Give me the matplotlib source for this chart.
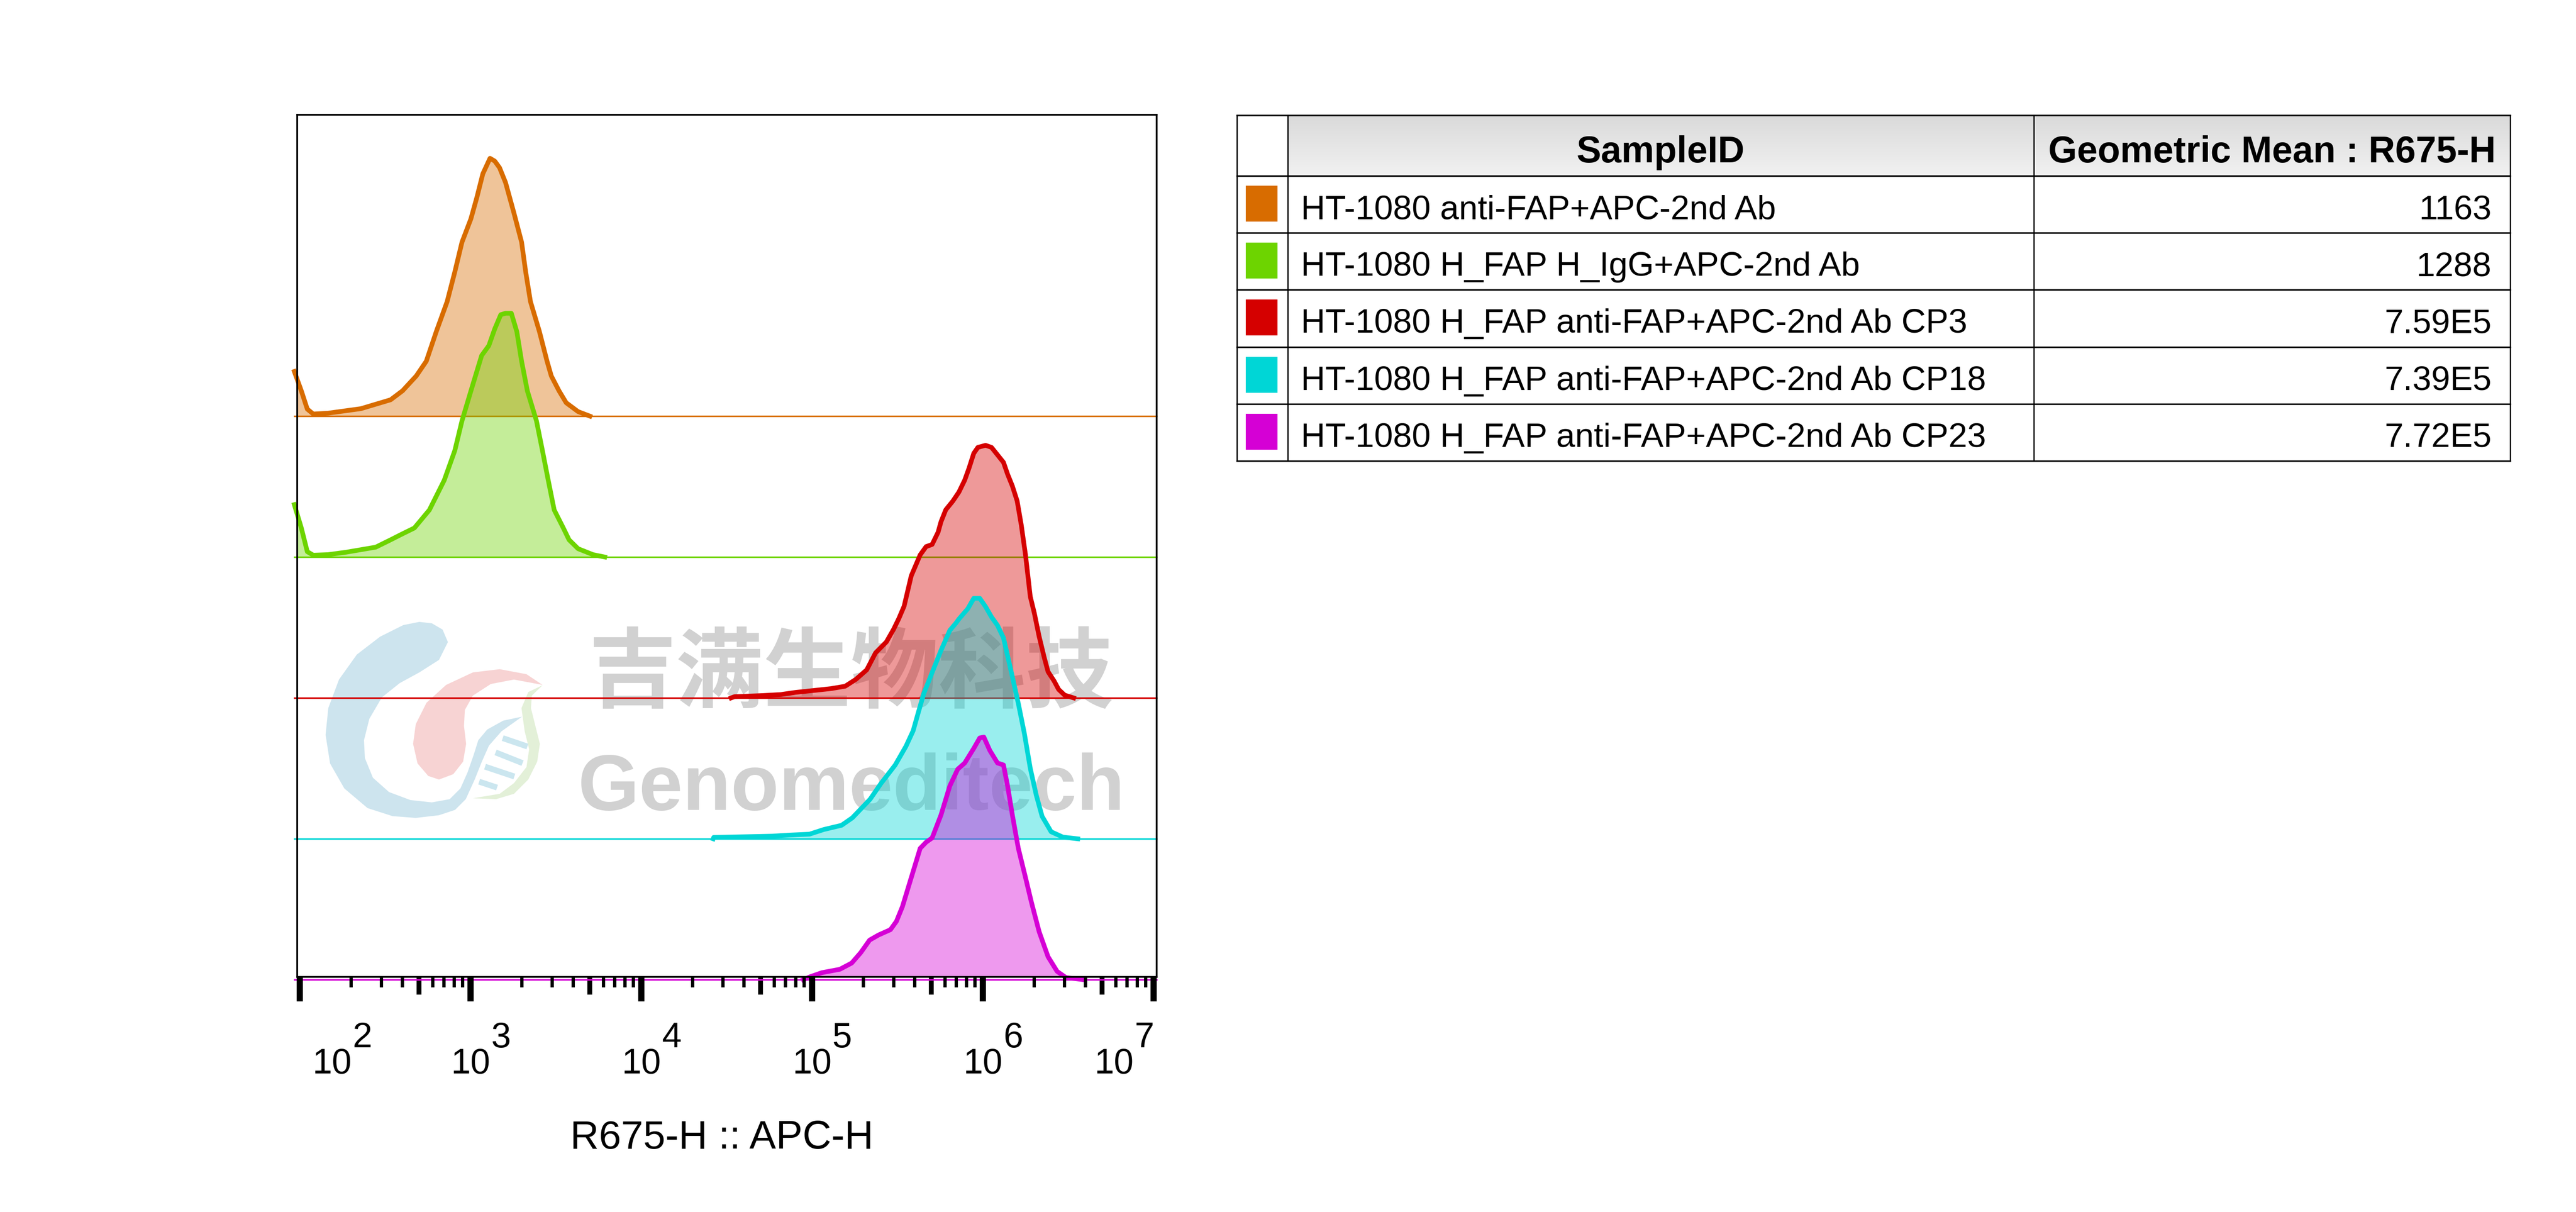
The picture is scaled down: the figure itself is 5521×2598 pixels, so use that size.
import numpy as np
import matplotlib
matplotlib.use('Agg')
import matplotlib.pyplot as plt
from matplotlib.patches import Polygon, Rectangle
from matplotlib.ticker import FixedLocator, NullLocator, NullFormatter

plt.rcParams['font.family'] = ['Liberation Sans', 'Noto Sans CJK SC', 'DejaVu Sans']

W, H, DPI = 5521, 2598, 300

# ---- data -------------------------------------------------------------
sample_ids = ['HT-1080 anti-FAP+APC-2nd Ab',
              'HT-1080 H_FAP H_IgG+APC-2nd Ab',
              'HT-1080 H_FAP anti-FAP+APC-2nd Ab CP3',
              'HT-1080 H_FAP anti-FAP+APC-2nd Ab CP18',
              'HT-1080 H_FAP anti-FAP+APC-2nd Ab CP23']
geo_means = ['1163', '1288', '7.59E5', '7.39E5', '7.72E5']
colors = ['#d86c00', '#6dd400', '#d50000', '#00d6d6', '#d500d5']

# log10(R675-H) and mode-normalised height
orange_log = [1.969, 2.010, 2.045, 2.080, 2.167, 2.359, 2.533, 2.603, 2.683, 2.742,
              2.801, 2.864, 2.909, 2.951, 3.003, 3.038, 3.073, 3.115, 3.143, 3.171,
              3.206, 3.254, 3.300, 3.324, 3.352, 3.404, 3.449, 3.474, 3.519, 3.561,
              3.631, 3.700]
orange_h = [0.317, 0.18, 0.05, 0.015, 0.021, 0.053, 0.116, 0.18, 0.285, 0.39,
            0.602, 0.813, 1.024, 1.235, 1.40, 1.552, 1.72, 1.83, 1.81, 1.763,
            1.658, 1.447, 1.235, 1.024, 0.813, 0.602, 0.39, 0.285, 0.18, 0.095,
            0.032, 0.0]

green_log = [1.969, 2.010, 2.045, 2.080, 2.167, 2.272, 2.446, 2.533, 2.603, 2.672,
             2.760, 2.847, 2.909, 2.951, 3.003, 3.066, 3.108, 3.143, 3.178, 3.206,
             3.240, 3.272, 3.300, 3.334, 3.387, 3.422, 3.456, 3.491, 3.544, 3.578,
             3.631, 3.718, 3.787]
green_h = [0.372, 0.207, 0.038, 0.013, 0.017, 0.034, 0.07, 0.122, 0.165, 0.206,
           0.334, 0.545, 0.756, 0.967, 1.178, 1.43, 1.50, 1.62, 1.72, 1.73,
           1.73, 1.60, 1.39, 1.178, 0.967, 0.756, 0.545, 0.334, 0.207, 0.122,
           0.059, 0.017, 0.0]

red_log = [4.527, 4.547, 4.715, 4.818, 4.903, 5.028, 5.112, 5.195, 5.258, 5.321,
           5.373, 5.436, 5.478, 5.509, 5.540, 5.582, 5.634, 5.669, 5.704, 5.739,
           5.756, 5.784, 5.826, 5.861, 5.895, 5.920, 5.948, 5.972, 6.017, 6.052,
           6.087, 6.122, 6.146, 6.174, 6.202, 6.226, 6.251, 6.279, 6.303, 6.330,
           6.360, 6.383, 6.418, 6.445, 6.480, 6.533]
red_h = [0.0, 0.009, 0.017, 0.024, 0.039, 0.055, 0.066, 0.083, 0.132, 0.199,
         0.32, 0.397, 0.486, 0.563, 0.651, 0.867, 1.015, 1.074, 1.089, 1.176,
         1.25, 1.335, 1.398, 1.461, 1.546, 1.630, 1.736, 1.778, 1.793, 1.778,
         1.725, 1.672, 1.588, 1.504, 1.398, 1.229, 1.015, 0.719, 0.60, 0.44,
         0.29, 0.186, 0.121, 0.06, 0.02, 0.0]

cyan_log = [4.422, 4.425, 4.767, 4.861, 4.986, 5.070, 5.174, 5.237, 5.341, 5.404,
            5.488, 5.551, 5.593, 5.624, 5.655, 5.704, 5.756, 5.808, 5.843, 5.861,
            5.913, 5.948, 5.983, 6.017, 6.052, 6.087, 6.122, 6.146, 6.174, 6.209,
            6.244, 6.279, 6.314, 6.348, 6.401, 6.470, 6.557]
cyan_h = [0.0, 0.010, 0.019, 0.026, 0.033, 0.066, 0.096, 0.149, 0.281, 0.392,
          0.524, 0.657, 0.767, 0.90, 1.03, 1.18, 1.337, 1.48, 1.53, 1.56,
          1.633, 1.707, 1.707, 1.648, 1.574, 1.515, 1.426, 1.30, 1.15, 0.96,
          0.75, 0.50, 0.31, 0.16, 0.05, 0.012, 0.0]

magenta_log = [4.950, 4.990, 5.059, 5.164, 5.233, 5.286, 5.338, 5.390, 5.460, 5.495,
               5.530, 5.582, 5.634, 5.669, 5.704, 5.756, 5.808, 5.854, 5.895, 5.948,
               5.983, 6.007, 6.042, 6.087, 6.122, 6.146, 6.174, 6.209, 6.251, 6.286,
               6.331, 6.383, 6.436, 6.488, 6.592]
magenta_h = [0.0, 0.021, 0.05, 0.074, 0.118, 0.192, 0.281, 0.317, 0.355, 0.414,
             0.518, 0.725, 0.932, 0.976, 1.006, 1.169, 1.376, 1.494, 1.538, 1.642,
             1.716, 1.722, 1.627, 1.538, 1.524, 1.376, 1.169, 0.932, 0.725, 0.548,
             0.34, 0.163, 0.059, 0.015, 0.0]

curves = [(orange_log, orange_h), (green_log, green_h), (red_log, red_h),
          (cyan_log, cyan_h), (magenta_log, magenta_h)]
decades = [2, 3, 4, 5, 6, 7]

# ---- figure -----------------------------------------------------------
fig = plt.figure(figsize=(W / DPI, H / DPI), dpi=DPI)
fig.patch.set_facecolor('white')

# background layer in pixel coordinates: watermark + table
bg = fig.add_axes([0, 0, 1, 1], zorder=0)
bg.set_xlim(0, W)
bg.set_ylim(H, 0)
bg.axis('off')

def logo_poly(pts, color):
    xy = [(650 + x / 2.613, 1250 + y / 2.613) for x, y in pts]
    bg.add_patch(Polygon(xy, closed=True, facecolor=color, edgecolor='none'))

blue_pts = [(650, 217), (560, 235), (430, 300), (300, 400), (200, 540), (140, 700),
            (125, 850), (150, 1010), (230, 1150), (360, 1260), (500, 1305), (630, 1315),
            (760, 1300), (850, 1270), (910, 1210), (960, 1100), (1000, 1000), (1040, 910),
            (1110, 830), (1225, 748), (1120, 770), (1030, 820), (980, 880), (955, 960),
            (920, 1060), (880, 1150), (820, 1210), (720, 1228), (600, 1215), (480, 1170),
            (390, 1090), (345, 980), (340, 880), (370, 760), (440, 640), (540, 560),
            (650, 500), (760, 430), (810, 330), (780, 260), (720, 225)]
pink_pts = [(1340, 570), (1250, 510), (1100, 482), (950, 500), (800, 570), (690, 670),
            (630, 790), (615, 900), (640, 1010), (700, 1080), (760, 1100), (840, 1070),
            (895, 1000), (912, 900), (900, 800), (905, 710), (950, 630), (1050, 565),
            (1180, 540)]
leaf_pts = [(1340, 572), (1260, 610), (1222, 700), (1240, 830), (1265, 930), (1250, 1030),
            (1180, 1120), (1100, 1180), (950, 1205), (1080, 1210), (1180, 1180),
            (1260, 1100), (1310, 1000), (1325, 900), (1300, 800), (1275, 700), (1280, 630)]
logo_poly(blue_pts, '#cde4ee')
logo_poly(pink_pts, '#f7d3d3')
logo_poly(leaf_pts, '#e3f0d8')
for (xa, ya), (xb, yb) in [((1117, 868), (1255, 915)), ((1077, 948), (1228, 1008)),
                           ((1018, 1028), (1182, 1083)), ((985, 1112), (1085, 1145))]:
    bg.plot([650 + xa / 2.613, 650 + xb / 2.613], [1250 + ya / 2.613, 1250 + yb / 2.613],
            color='#cbe6ef', lw=3.0, solid_capstyle='butt')

bg.text(1824, 1447, '吉满生物科技', fontsize=45, fontweight='bold',
        family=['Noto Sans CJK SC'], color='#d1d1d1', ha='center', va='center')
bg.text(1824, 1736, 'Genomeditech', fontsize=40.5, fontweight='bold',
        color='#d1d1d1', ha='center', va='baseline')

# table
x0, x1, x2, x3 = 2651, 2760, 4359, 5380
top, head_bot, row_h = 247, 377, 122.2
grad = np.linspace(0.855, 0.945, 64)[:, None, None] * np.ones((1, 1, 3))
bg.imshow(grad, extent=(x1, x3, head_bot, top), aspect='auto', zorder=1)
bottom = head_bot + row_h * len(sample_ids)
for yy in [top, head_bot] + [head_bot + row_h * (i + 1) for i in range(len(sample_ids))]:
    bg.plot([x0, x3], [yy, yy], color='black', lw=0.8, zorder=3)
for xx in [x0, x1, x2, x3]:
    bg.plot([xx, xx], [top, bottom], color='black', lw=0.65, zorder=3)
bg.text((x1 + x2) / 2, top + 101, 'SampleID', fontsize=19, fontweight='bold',
        ha='center', va='baseline', zorder=4)
bg.text((x2 + x3) / 2, top + 101, 'Geometric Mean : R675-H', fontsize=19,
        fontweight='bold', ha='center', va='baseline', zorder=4)
for i, (name, gm, c) in enumerate(zip(sample_ids, geo_means, colors)):
    rt = head_bot + row_h * i
    bg.add_patch(Rectangle((2670, rt + 21), 68, 77, facecolor=c, edgecolor='none', zorder=2))
    bg.text(2788, rt + 92, name, fontsize=17.4, ha='left', va='baseline', zorder=4)
    bg.text(5340, rt + 92, gm, fontsize=17.4, ha='right', va='baseline', zorder=4)

# histogram axes
ax = fig.add_axes([637 / W, 1 - 2094 / H, 1842 / W, 1848 / H], zorder=1)
ax.patch.set_alpha(0)
ax.set_xscale('log')
xmin, xmax = 10 ** 1.986, 10 ** 7.019
ax.set_xlim(xmin, xmax)
ax.set_ylim(0.02, 6.139)

# offset histograms, top layer first; each layer covers the ones drawn before it
n = len(curves)
for i, ((lx, hy), c) in enumerate(zip(curves, colors)):
    off = n - 1 - i
    z = 1 + i * 0.1
    xv = np.power(10.0, lx)
    yv = off + np.array(hy)
    ax.fill_between(xv, off, yv, color=c, alpha=0.4, lw=0, zorder=z)
    ax.plot([10 ** 1.97, xmax], [off, off], color=c, lw=0.8, clip_on=False, zorder=z + 0.01)
    ax.plot(xv, yv, color=c, lw=2.4, clip_on=False, zorder=z + 0.02,
            solid_joinstyle='round')

for s in ax.spines.values():
    s.set_linewidth(0.9)
    s.set_zorder(3)

ax.set_yticks([])
ax.xaxis.set_major_locator(FixedLocator([10.0 ** k for k in decades]))
ax.xaxis.set_major_formatter(NullFormatter())
ax.xaxis.set_minor_locator(FixedLocator([m * 10.0 ** k for k in range(2, 7)
                                         for m in (2, 3, 4, 6, 7, 8, 9)]))
ax.xaxis.set_minor_formatter(NullFormatter())
ax.tick_params(axis='x', which='major', direction='out', length=12.5, width=3.2)
ax.tick_params(axis='x', which='minor', direction='out', length=5.3, width=1.7)

sec = ax.secondary_xaxis('bottom')
sec.set_xticks([5 * 10.0 ** k for k in range(2, 7)])
sec.xaxis.set_minor_locator(NullLocator())
sec.xaxis.set_major_formatter(NullFormatter())
sec.tick_params(axis='x', direction='out', length=9, width=2.5)
sec.spines['bottom'].set_visible(False)

# decade labels, FlowJo style (10 with a large exponent beside it)
xt = ax.get_xaxis_transform()
shift = {2: 0.189, 7: -0.232}
for k in decades:
    b = k + shift.get(k, 0.0)
    ax.text(10 ** b, -0.112, '10', transform=xt, fontsize=18.2,
            ha='center', va='baseline')
    ax.text(10 ** (b + 0.177), -0.0817, str(k), transform=xt, fontsize=18.2,
            ha='center', va='baseline')

ax.text(0.494, -0.199, 'R675-H :: APC-H', transform=ax.transAxes, fontsize=20.5,
        ha='center', va='baseline')

fig.savefig('out.png', dpi=DPI)
